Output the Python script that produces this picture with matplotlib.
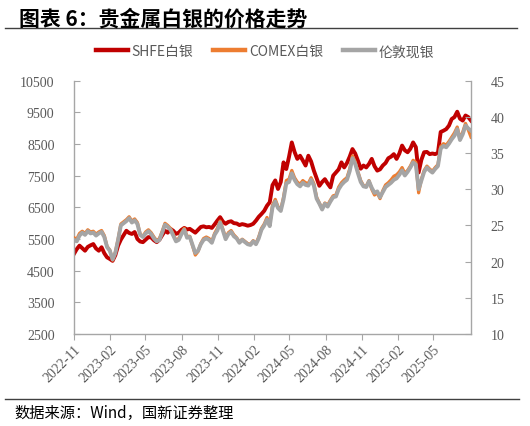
import numpy as np
import pandas as pd
import matplotlib
matplotlib.use("Agg")
import matplotlib.pyplot as plt
import matplotlib.dates as mdates
from matplotlib.lines import Line2D

plt.rcParams['font.family'] = ['Noto Sans CJK SC', 'DejaVu Sans']

dates = pd.date_range('2022-11-25', periods=145, freq='7D')

shfe = [
    5030, 5180, 5290, 5210, 5130, 5250, 5300, 5340, 5200, 5130,
    5240, 5050, 4920, 4870, 4810, 4990, 5290, 5480, 5620, 5760,
    5690, 5660, 5720, 5500, 5420, 5400, 5480, 5560, 5550, 5460,
    5400, 5480, 5620, 5760, 5700, 5820, 5760, 5660, 5700, 5790,
    5850, 5800, 5820, 5760, 5700, 5790, 5880, 5900, 5870, 5880,
    5850, 5960, 6080, 6190, 6050, 5980, 6040, 6060, 6000, 5990,
    5940, 5970, 5950, 5920, 5940, 5980, 6080, 6200, 6290, 6390,
    6550, 6660, 7200, 7350, 7080, 7300, 7920, 7710, 8100, 8550,
    8250, 8030, 8130, 7980, 7820, 8130, 7950, 7660, 7420, 7180,
    7300, 7390, 7250, 7130, 7500, 7600, 7700, 7920, 7760, 7900,
    8100, 8340, 8200, 7970, 7720, 7820, 7760, 7870, 8030, 7800,
    7660, 7700, 7820, 7900, 8050, 8100, 8180, 8030, 8200, 8450,
    8300, 8240, 8350, 8550, 8400, 7600, 8000, 8240, 8250, 8180,
    8200, 8180, 8220, 8880, 8920, 8970, 9080, 9290, 9350, 9520,
    9300, 9240, 9400, 9350, 9240,
]

comex = [
    23.3, 23.1, 23.9, 24.2, 23.9, 24.4, 24.1, 24.2, 23.8, 24.1,
    24.3, 23.6, 22.1, 21.6, 20.2, 21.3, 23.1, 25.2, 25.5, 25.8,
    26.2, 25.6, 25.9, 25.4, 23.8, 23.5, 24.1, 24.4, 24.0, 23.4,
    22.9, 23.2, 24.2, 25.3, 25.0, 24.6, 23.8, 22.9, 23.2, 24.0,
    24.6, 23.5, 23.5, 22.2, 20.9, 21.4, 22.5, 23.2, 23.4, 23.2,
    22.8, 23.9, 24.6, 25.6, 24.5, 23.3, 24.0, 24.3, 23.7, 23.3,
    22.7, 23.1, 22.8, 22.5, 22.4, 22.9, 22.5, 23.4, 24.6, 25.2,
    26.1, 25.1, 27.8, 28.6, 27.6, 27.2, 28.9, 31.2, 31.4, 32.6,
    31.6, 31.0, 30.7, 31.2, 30.9, 30.8, 31.6, 30.8, 28.9, 28.1,
    27.3, 28.1, 27.8, 28.5, 29.1, 29.2, 30.3, 30.9, 31.3, 31.6,
    32.8, 34.6, 33.8, 32.4, 31.2, 30.5, 30.4, 31.2, 30.0, 29.2,
    29.5, 28.7, 29.8, 30.6, 30.9, 31.3, 31.8, 32.0, 32.4, 33.0,
    32.2, 32.6, 33.2, 34.0, 33.7, 29.5, 31.4, 32.6, 33.2, 32.8,
    32.5, 33.0, 33.4, 35.9, 36.3, 36.1, 36.6, 37.2, 37.8, 38.6,
    37.0, 37.9, 39.1, 38.2, 37.2,
]

london = [
    23.0, 22.8, 23.6, 24.0, 23.7, 24.2, 23.9, 24.0, 23.6, 23.9,
    24.1, 23.4, 22.0, 21.5, 20.3, 21.2, 23.0, 25.0, 25.3, 25.6,
    26.0, 25.4, 25.7, 25.2, 23.7, 23.4, 23.9, 24.2, 23.8, 23.2,
    22.8, 23.0, 24.0, 25.1, 24.8, 24.4, 23.6, 22.8, 23.0, 23.8,
    24.4, 23.3, 23.4, 22.3, 21.2, 21.5, 22.4, 23.0, 23.2, 23.0,
    22.6, 23.7, 24.3, 25.4, 24.3, 23.1, 23.8, 24.1, 23.5, 23.2,
    22.6, 23.0, 22.7, 22.4, 22.3, 22.8, 22.4, 23.2, 24.4, 25.0,
    25.8, 24.9, 27.5, 28.3, 27.4, 27.0, 28.6, 30.8, 31.0, 32.2,
    31.3, 30.7, 30.4, 30.9, 30.6, 30.5, 31.3, 30.5, 28.7, 28.0,
    27.2, 28.0, 27.6, 28.3, 28.9, 29.0, 30.0, 30.6, 31.0, 31.3,
    32.5, 34.3, 33.5, 32.2, 31.0, 30.4, 30.3, 31.1, 30.2, 29.5,
    29.7, 28.9, 29.6, 30.3, 30.6, 30.9, 31.3, 31.5, 32.0, 32.6,
    31.9, 32.4, 33.0, 33.7, 33.4, 30.0, 31.2, 32.4, 33.0, 32.6,
    32.3, 32.8, 33.2, 35.6, 36.0, 35.8, 36.3, 36.9, 37.4, 38.3,
    36.8, 37.6, 38.8, 38.4, 38.1,
]

labels = ['SHFE白银', 'COMEX白银', '伦敦现银']
colors = ['#C00000', '#ED7D31', '#A5A5A5']

tick_dates = pd.date_range('2022-11-25', periods=11, freq=pd.DateOffset(months=3))

fig = plt.figure(figsize=(5.3, 4.27), dpi=100)
ax = fig.add_axes([0.1396, 0.2155, 0.7491, 0.5932])
ax2 = ax.twinx()

ax.plot(dates, shfe, color=colors[0], lw=2.8, solid_joinstyle='round')
ax2.plot(dates, comex, color=colors[1], lw=2.3, solid_joinstyle='round')
ax2.plot(dates, london, color=colors[2], lw=2.8, solid_joinstyle='round')

ax.set_ylim(2500, 10500)
ax.set_yticks(np.arange(2500, 10501, 1000))
ax2.set_ylim(10, 45)
ax2.set_yticks(np.arange(10, 46, 5))
ax.set_xlim(dates[0], dates[-1])
ax.set_xticks(tick_dates)
ax.xaxis.set_major_formatter(mdates.DateFormatter('%Y-%m'))

spine_c = '#A6A6A6'
tick_c = '#595959'
for a in (ax, ax2):
    for s in a.spines.values():
        s.set_color(spine_c)
        s.set_linewidth(1.0)
    a.spines['top'].set_visible(False)
ax.spines['right'].set_visible(False)
ax2.spines['left'].set_visible(False)
ax2.spines['bottom'].set_visible(False)

for lab in ax.get_yticklabels() + ax2.get_yticklabels() + ax.get_xticklabels():
    lab.set_fontfamily('Liberation Serif')
    lab.set_fontsize(10)
    lab.set_color(tick_c)

ax.tick_params(axis='y', direction='in', length=4, color=spine_c, pad=14)
ax2.tick_params(axis='y', direction='in', length=4, color=spine_c, pad=14)
ax.tick_params(axis='x', direction='out', length=4, color=spine_c, pad=2)
for lab in ax.get_xticklabels():
    lab.set_rotation(45)
    lab.set_ha('right')
    lab.set_va('top')
    lab.set_rotation_mode('anchor')

# title, rules, legend, source
fig.text(0.036, 0.955, '图表 6：贵金属白银的价格走势', fontsize=15,
         fontweight='bold', color='#000000', va='center', ha='left')
fig.add_artist(Line2D([0.01, 0.975], [0.932, 0.932], color='#404040', lw=1.0))
fig.add_artist(Line2D([0.01, 0.98], [0.063, 0.063], color='#404040', lw=1.0))
fig.text(0.028, 0.032, '数据来源：Wind，国新证券整理', fontsize=11,
         color='#000000', va='center', ha='left')

handles = [Line2D([], [], color=c, lw=3.2) for c in colors]
leg = fig.legend(handles, labels, loc='center', bbox_to_anchor=(0.5, 0.878),
                 ncol=3, frameon=False, fontsize=10, handlelength=2.3,
                 handletextpad=0.3, columnspacing=1.4)
for t in leg.get_texts():
    t.set_color(tick_c)

fig.savefig('out.png', dpi=100)
